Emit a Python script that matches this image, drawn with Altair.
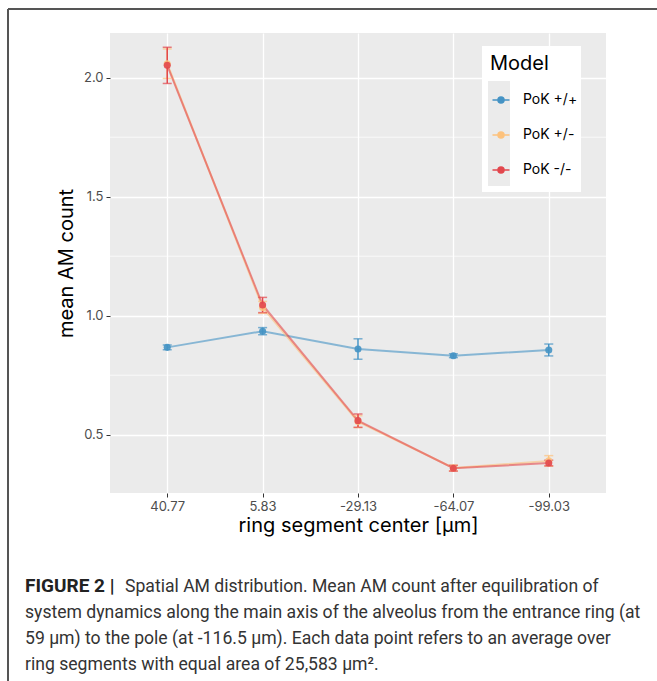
import altair as alt
import pandas as pd

# ring segment centres (µm), in plotting order
segments = ["40.77", "5.83", "-29.13", "-64.07", "-99.03"]
models = ["PoK +/+", "PoK +/-", "PoK -/-"]
colors = ["#4593C4", "#FDC27D", "#E2474D"]

# mean AM count per segment and its error half-width
mean_wt = [0.867, 0.935, 0.860, 0.832, 0.856]
err_wt = [0.010, 0.015, 0.043, 0.008, 0.025]
mean_het = [2.059, 1.035, 0.555, 0.360, 0.390]
err_het = [0.062, 0.025, 0.025, 0.012, 0.022]
mean_ko = [2.052, 1.045, 0.559, 0.359, 0.381]
err_ko = [0.076, 0.032, 0.028, 0.012, 0.012]

minor_breaks = [0.75, 1.25, 1.75]
major_breaks = [0.5, 1.0, 1.5, 2.0]

caption_bold = "FIGURE 2 |"
caption_lines = [
    "Spatial AM distribution. Mean AM count after equilibration of",
    "system dynamics along the main axis of the alveolus from the entrance ring (at",
    "59 µm) to the pole (at -116.5 µm). Each data point refers to an average over",
    "ring segments with equal area of 25,583 µm².",
]

rows = []
for model, means, errs in zip(models, [mean_wt, mean_het, mean_ko], [err_wt, err_het, err_ko]):
    for seg, m, e in zip(segments, means, errs):
        rows.append({"segment": seg, "model": model, "mean": m, "lo": m - e, "hi": m + e})
df = pd.DataFrame(rows)

FONT = "Inter"
CAP_FONT = "Roboto"
W, H = 496, 460

xenc = alt.X(
    "segment:N",
    sort=segments,
    scale=alt.Scale(type="point", padding=0.6),
    axis=alt.Axis(title="ring segment center [µm]", labelAngle=0),
)
yscale = alt.Scale(domain=[0.255, 2.188], nice=False, zero=False)
yaxis = alt.Axis(title="mean AM count", values=major_breaks, format=".1f")

key_path = "M-0.85,0L0.85,0M-0.3,0A0.3,0.3 0 1,0 0.3,0A0.3,0.3 0 1,0 -0.3,0"
legend = alt.Legend(
    orient="none",
    legendX=372,
    legendY=13,
    title="Model",
    titleFont=FONT,
    titleFontSize=20,
    titleFontWeight="normal",
    titleColor="black",
    titlePadding=15,
    labelFont=FONT,
    labelFontSize=14,
    labelColor="black",
    labelOffset=11,
    padding=8,
    rowPadding=17,
    symbolType=key_path,
    symbolSize=400,
    symbolStrokeWidth=1.5,
    symbolOpacity=1,
)
cenc = alt.Color("model:N", scale=alt.Scale(domain=models, range=colors), legend=legend)

minor = alt.Chart(pd.DataFrame({"v": minor_breaks})).mark_rule(
    color="white", strokeWidth=0.7
).encode(y=alt.Y("v:Q", scale=yscale, axis=yaxis))

one = alt.Data(values=[{}])
legend_bg = alt.Chart(one).mark_rect(fill="white").encode(
    x=alt.value(372), x2=alt.value(471), y=alt.value(13), y2=alt.value(159)
)
key_bg = alt.Chart(one).mark_rect(fill="#EBEBEB").encode(
    x=alt.value(378), x2=alt.value(400), y=alt.value(48), y2=alt.value(153)
)

lines = alt.Chart(df).mark_line(strokeWidth=2, opacity=0.6).encode(
    x=xenc, y=alt.Y("mean:Q", scale=yscale, axis=yaxis), color=cenc, detail="model:N"
)
bars = alt.Chart(df).mark_errorbar(ticks=True, thickness=1.5, size=9).encode(
    x=xenc, y=alt.Y("lo:Q", scale=yscale, axis=yaxis), y2="hi:Q", color=cenc
)
points = alt.Chart(df).mark_point(filled=True, size=50, opacity=0.9).encode(
    x=xenc, y=alt.Y("mean:Q", scale=yscale, axis=yaxis), color=cenc
)

# caption block below the plot
cap_y0 = 559
cap_step = 26
caption = [
    alt.Chart(one).mark_text(
        align="left", baseline="alphabetic", font=CAP_FONT, fontSize=19,
        fontWeight="bold", color="#222"
    ).encode(x=alt.value(-85), y=alt.value(cap_y0), text=alt.value(caption_bold))
]
for i, line in enumerate(caption_lines):
    caption.append(
        alt.Chart(one).mark_text(
            align="left", baseline="alphabetic", font=CAP_FONT, fontSize=17.6, color="#333"
        ).encode(
            x=alt.value(15 if i == 0 else -85),
            y=alt.value(cap_y0 + i * cap_step),
            text=alt.value(line),
        )
    )

# figure frame: top and left edges
frame_top = alt.Chart(one).mark_rule(color="#555", strokeWidth=2).encode(
    x=alt.value(-102), x2=alt.value(547), y=alt.value(-24)
)
frame_left = alt.Chart(one).mark_rule(color="#555", strokeWidth=2).encode(
    x=alt.value(-102), y=alt.value(-24), y2=alt.value(648)
)

chart = alt.layer(
    minor, legend_bg, key_bg, lines, bars, points, *caption, frame_top, frame_left
).properties(
    width=W,
    height=H,
    padding={"left": 110, "top": 33, "right": 51, "bottom": 188},
    autosize=alt.AutoSizeParams(type="none"),
    background="white",
).configure_view(
    fill="#EBEBEB", strokeWidth=0
).configure_axis(
    grid=True,
    gridColor="white",
    gridWidth=1.3,
    domain=False,
    tickColor="#333",
    tickSize=4,
    tickWidth=1,
    labelFont=FONT,
    labelFontSize=13,
    labelColor="#4D4D4D",
    titleFont=FONT,
    titleFontSize=20,
    titleFontWeight="normal",
    titleColor="black",
).configure_axisY(
    labelPadding=3, titlePadding=7
).configure_axisX(
    labelPadding=3, titlePadding=2
)

chart.save("out.html", embed_options={"renderer": "svg", "actions": False})
